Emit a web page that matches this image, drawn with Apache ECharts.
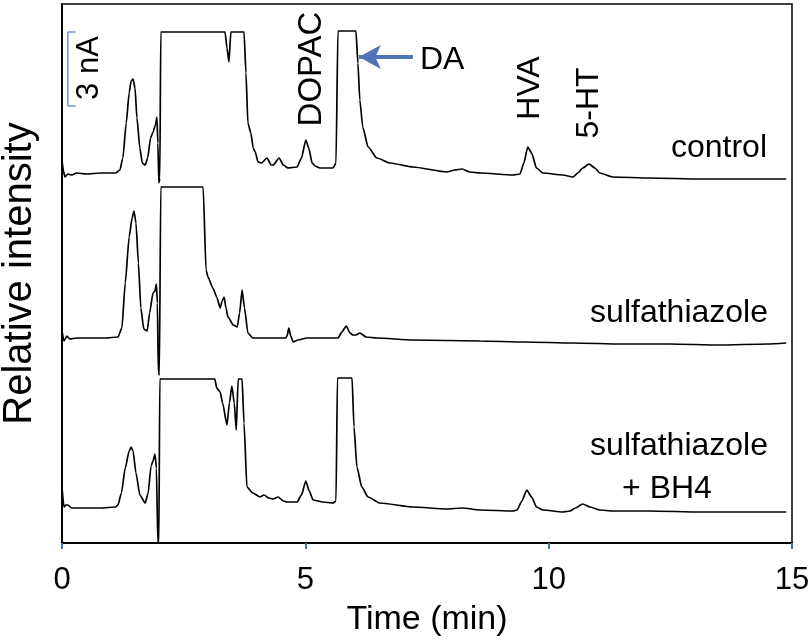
<!DOCTYPE html>
<html>
<head>
<meta charset="utf-8">
<script src="https://cdn.jsdelivr.net/npm/echarts@6/dist/echarts.min.js"></script>
<style>
html,body{margin:0;padding:0;background:#fff;}
#chart{width:810px;height:641px;}
</style>
</head>
<body>
<div id="chart"></div>
<script>
// Time axis (min) and tick labels
const xTicks = [0, 5, 10, 15];

// Trace 1: control (relative intensity, offset included; clipped peaks at top)
const controlT = [0.00,0.03,0.06,0.12,0.20,0.30,0.50,0.80,1.10,1.19,1.25,1.32,1.38,1.42,1.46,1.50,1.54,1.60,1.65,1.71,1.76,1.82,1.87,1.92,1.95,1.97,1.99,2.01,2.03,3.35,3.39,3.43,3.47,3.74,3.78,3.82,3.88,3.93,3.97,4.03,4.10,4.21,4.30,4.34,4.46,4.55,4.64,4.83,4.92,5.01,5.07,5.14,5.20,5.30,5.57,5.63,5.67,6.04,6.08,6.12,6.18,6.29,6.47,6.74,7.21,7.91,8.07,8.22,8.38,8.59,9.27,9.41,9.49,9.57,9.65,9.75,9.88,10.29,10.50,10.60,10.70,10.83,10.95,11.05,11.32,12.08,13.11,14.14,14.88];
const controlV = [383,372,366,369,368,370,369,370,370,373,385,420,450,462,464,455,425,395,380,378,385,405,411,418,426,400,360,365,511,511,495,481,511,511,470,420,410,395,391,381,380,385,378,378,385,378,375,376,385,403,395,380,377,375,375,380,512,512,480,443,416,396,385,380,376,371,373,374,371,370,368,369,380,396,390,375,370,368,366,370,375,379,375,370,366,365,364,364,364];

// Trace 2: sulfathiazole
const sulfaT = [0.00,0.04,0.10,0.16,0.30,0.60,0.90,1.15,1.23,1.30,1.38,1.44,1.48,1.52,1.57,1.62,1.68,1.75,1.80,1.87,1.91,1.94,1.96,1.98,2.00,2.03,2.90,2.96,3.00,3.10,3.18,3.25,3.29,3.33,3.37,3.41,3.52,3.60,3.65,3.70,3.75,3.82,3.92,4.20,4.60,4.63,4.66,4.70,4.75,4.85,5.03,5.40,5.67,5.75,5.84,5.92,5.98,6.04,6.12,6.25,6.47,7.21,8.59,9.50,10.50,11.50,12.50,13.50,14.50,14.88];
const sulfaV = [212,202,207,204,205,205,205,206,215,260,306,325,332,320,280,235,214,212,230,250,252,259,240,170,168,356,356,273,266,255,246,235,242,246,235,226,218,216,230,253,235,210,205,205,205,208,215,207,201,203,205,205,205,211,217,210,208,208,210,206,205,203,202,201,200,199,199,198,199,200];

// Trace 3: sulfathiazole + BH4
const bh4T = [0.00,0.04,0.08,0.12,0.20,0.40,0.80,1.10,1.15,1.22,1.30,1.38,1.42,1.46,1.52,1.60,1.71,1.77,1.83,1.87,1.91,1.94,1.97,1.99,2.01,3.14,3.18,3.25,3.30,3.39,3.44,3.49,3.54,3.58,3.62,3.70,3.74,3.80,3.92,4.07,4.15,4.25,4.34,4.44,4.55,4.62,4.83,4.92,5.01,5.08,5.16,5.36,5.57,5.63,5.66,5.96,6.00,6.06,6.16,6.29,6.53,7.21,7.91,8.22,8.59,9.27,9.35,9.45,9.55,9.65,9.75,9.88,10.29,10.44,10.55,10.70,10.85,11.05,11.32,12.08,13.11,14.14,14.88];
const bh4V = [56,36,38,38,35,35,35,36,38,50,75,92,96,92,70,48,40,50,77,82,89,75,0,0,164,164,155,151,140,118,140,157,140,113,164,164,120,56,50,46,48,45,44,46,42,41,41,48,62,52,43,41,40,42,165,165,116,76,56,46,40,36,34,35,33,32,33,42,53,46,36,33,31,32,35,39,36,33,32,32,31,31,31];

// 3 nA scale bar (in intensity units: 3 nA spans 74 units)
const scaleBarT = [0.28, 0.12, 0.12, 0.28];
const scaleBarV = [511, 511, 437, 437];

// DA arrow (time, intensity)
const arrowT = [7.21, 6.10];
const arrowV = [486, 486];

const zip = (a, b) => a.map((v, i) => [v, b[i]]);
const FONT = "'Liberation Sans', Arial, Helvetica, sans-serif";
const chart = echarts.init(document.getElementById('chart'), null, {renderer: 'canvas'});

const traceStyle = {color: '#000', width: 1.7};
const traceCommon = {type: 'line', showSymbol: false, lineStyle: traceStyle, silent: true, smooth: 0.2, smoothMonotone: 'x'};

chart.setOption({
  animation: false,
  backgroundColor: '#fff',
  grid: {left: 62, right: 18, top: 4, bottom: 98, show: true, borderColor: '#000', borderWidth: 1.5, outerBoundsMode: 'none', containLabel: false},
  xAxis: {
    type: 'value', min: 0, max: 15, interval: 5,
    axisLine: {show: true, onZero: false, lineStyle: {color: '#000', width: 2}},
    axisTick: {show: true, length: 6, lineStyle: {color: '#4472C4', width: 2}},
    splitLine: {show: false},
    axisLabel: {color: '#000', fontSize: 31, fontFamily: FONT, margin: 22,
      formatter: v => xTicks.includes(v) ? String(v) : ''},
    name: 'Time (min)', nameLocation: 'middle', nameGap: 60,
    nameTextStyle: {color: '#000', fontSize: 34, fontFamily: FONT}
  },
  yAxis: {
    type: 'value', min: 0, max: 539,
    axisLine: {show: true, lineStyle: {color: '#000', width: 2}},
    axisTick: {show: false}, axisLabel: {show: false}, splitLine: {show: false},
    name: 'Relative intensity', nameLocation: 'middle', nameGap: 22, nameRotate: 90,
    nameTextStyle: {color: '#000', fontSize: 40, fontFamily: FONT}
  },
  series: [
    Object.assign({name: 'control', data: zip(controlT, controlV),
      markLine: {silent: true, symbol: ['none', 'arrow'], symbolSize: [18, 22], label: {show: false},
        lineStyle: {color: '#4F73B6', width: 4, type: 'solid'},
        data: [[{coord: [arrowT[0], arrowV[0]]}, {coord: [arrowT[1], arrowV[1]]}]]}}, traceCommon),
    Object.assign({name: 'sulfathiazole', data: zip(sulfaT, sulfaV)}, traceCommon),
    Object.assign({name: 'sulfathiazole + BH4', data: zip(bh4T, bh4V)}, traceCommon),
    {type: 'line', name: 'scale', data: zip(scaleBarT, scaleBarV), showSymbol: false, lineStyle: {color: '#7393CC', width: 1.5}, silent: true}
  ],
  graphic: [
    {type: 'text', x: 89, y: 68, rotation: Math.PI / 2, style: {text: '3 nA', font: '31px ' + FONT, fill: '#000', align: 'center', verticalAlign: 'middle'}},
    {type: 'text', x: 312, y: 69, rotation: Math.PI / 2, style: {text: 'DOPAC', font: '33px ' + FONT, fill: '#000', align: 'center', verticalAlign: 'middle'}},
    {type: 'text', x: 530, y: 88, rotation: Math.PI / 2, style: {text: 'HVA', font: '32px ' + FONT, fill: '#000', align: 'center', verticalAlign: 'middle'}},
    {type: 'text', x: 589, y: 103, rotation: Math.PI / 2, style: {text: '5-HT', font: '32px ' + FONT, fill: '#000', align: 'center', verticalAlign: 'middle'}},
    {type: 'text', x: 420, y: 60, style: {text: 'DA', font: '32px ' + FONT, fill: '#000', align: 'left', verticalAlign: 'middle'}},
    {type: 'text', x: 767, y: 148, style: {text: 'control', font: '32px ' + FONT, fill: '#000', align: 'right', verticalAlign: 'middle'}},
    {type: 'text', x: 768, y: 313, style: {text: 'sulfathiazole', font: '32px ' + FONT, fill: '#000', align: 'right', verticalAlign: 'middle'}},
    {type: 'text', x: 768, y: 446, style: {text: 'sulfathiazole', font: '32px ' + FONT, fill: '#000', align: 'right', verticalAlign: 'middle'}},
    {type: 'text', x: 667, y: 489, style: {text: '+ BH4', font: '32px ' + FONT, fill: '#000', align: 'center', verticalAlign: 'middle'}}
  ]
});
</script>
</body>
</html>
